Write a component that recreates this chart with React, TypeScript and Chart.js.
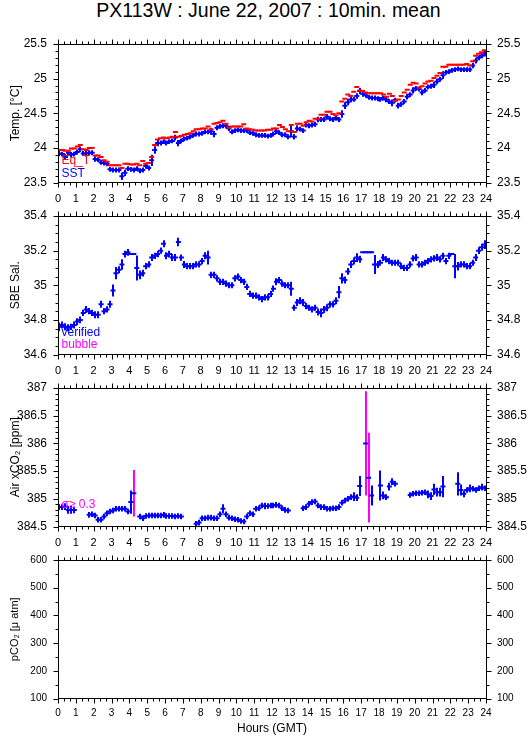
import React, { useEffect, useRef } from "react";
import { Chart, registerables } from "chart.js";

Chart.register(...registerables);

const FONT = '"Liberation Sans", Arial, Helvetica, sans-serif';
Chart.defaults.font.family = FONT;
Chart.defaults.color = "#000";

const BLUE = "#0000ff";
const RED = "#ff0000";
const MAGENTA = "#ff00ff";

const TITLE = "PX113W : June 22, 2007 : 10min. mean";
const X_TITLE = "Hours (GMT)";
const HOUR_TICKS = [0, 1, 2, 3, 4, 5, 6, 7, 8, 9, 10, 11, 12, 13, 14, 15, 16, 17, 18, 19, 20, 21, 22, 23, 24];
const INTERVAL_H = 1 / 6; // 10-minute means

const TEMP_TICKS = [23.5, 24, 24.5, 25, 25.5];
const SAL_TICKS = [34.6, 34.8, 35, 35.2, 35.4];
const XCO2_TICKS = [384.5, 385, 385.5, 386, 386.5, 387];
const PCO2_TICKS = [100, 200, 300, 400, 500, 600];

// Temperature panel
const EQ_T = [
  23.97, 23.97, 23.96, 23.96, 23.99, 23.99,
  24.02, 24.04, 23.98, 23.97, 24.0, 24.0,
  23.89, 23.89, 23.87, 23.82, 23.8, 23.75,
  23.75, 23.75, 23.75, 23.71, 23.77, 23.77,
  23.76, 23.76, 23.77, 23.75, 23.81, 23.77,
  23.78, 23.87, 24.04, 24.12, 24.14, 24.15,
  24.14, 24.15, 24.16, 24.23, 24.16, 24.17,
  24.19, 24.2, 24.21, 24.24, 24.27, 24.27,
  24.28, 24.28, 24.31, 24.27, 24.35, 24.36,
  24.37, 24.39, 24.35, 24.29, 24.31, 24.31,
  24.31, 24.31, 24.34, 24.28, 24.27, 24.26,
  24.25, 24.25, 24.25, 24.25, 24.26, 24.26,
  24.28, 24.28, 24.33, 24.3, 24.27, 24.24,
  24.33, 24.23, 24.35, 24.35, 24.32, 24.37,
  24.39, 24.38, 24.42, 24.42, 24.48, 24.48,
  24.52, 24.52, 24.49, 24.47, 24.5, 24.67,
  24.71, 24.77, 24.75, 24.81, 24.88, 24.83,
  24.82, 24.8, 24.79, 24.79, 24.79, 24.79,
  24.79, 24.77, 24.74, 24.78, 24.75, 24.68,
  24.7, 24.75, 24.8, 24.84, 24.91, 24.94,
  24.93, 24.87, 24.89, 24.93, 24.96, 24.97,
  25.01, 25.04, 25.08, 25.17, 25.17, 25.2,
  25.2, 25.2, 25.2, 25.2, 25.2, 25.21,
  25.19, 25.25, 25.33, 25.36, 25.38, 25.41,
];
const SST = [
  23.92, 23.91, 23.87, 23.93, 23.9, 23.91,
  23.94, 23.98, 23.92, 23.92, 23.93, 23.93,
  23.84, 23.83, 23.79, 23.78, 23.77, 23.69,
  23.68, 23.68, 23.68, 23.59, 23.64, 23.7,
  23.69, 23.68, 23.7, 23.67, 23.68, 23.74,
  23.71, 23.82, 23.97, 24.07, 24.07, 24.09,
  24.07, 24.09, 24.1, 24.15, 24.07, 24.1,
  24.13, 24.14, 24.16, 24.18, 24.2, 24.2,
  24.21, 24.23, 24.23, 24.24, 24.2, 24.29,
  24.31, 24.32, 24.32, 24.28, 24.23, 24.25,
  24.26, 24.25, 24.25, 24.25, 24.22, 24.21,
  24.19, 24.18, 24.18, 24.18, 24.17, 24.18,
  24.2, 24.24, 24.22, 24.19, 24.19, 24.16,
  24.24, 24.16, 24.28, 24.27, 24.25, 24.33,
  24.32, 24.33, 24.34, 24.41, 24.41, 24.41,
  24.45, 24.42, 24.41, 24.43, 24.41, 24.49,
  24.61, 24.66, 24.7, 24.7, 24.75, 24.82,
  24.78, 24.76, 24.73, 24.72, 24.72, 24.71,
  24.7, 24.72, 24.7, 24.67, 24.65, 24.69,
  24.61, 24.63, 24.67, 24.74, 24.77, 24.83,
  24.86, 24.85, 24.8, 24.83, 24.88, 24.89,
  24.91, 24.96, 24.99, 25.05, 25.09, 25.1,
  25.12, 25.13, 25.14, 25.13, 25.13, 25.13,
  25.13, 25.19, 25.26, 25.3, 25.33, 25.36,
];
const SST_SD = [
  0.04, 0.035, 0.04, 0.035, 0.04, 0.035,
  0.035, 0.04, 0.035, 0.045, 0.035, 0.035,
  0.04, 0.035, 0.035, 0.035, 0.035, 0.035,
  0.035, 0.035, 0.035, 0.055, 0.045, 0.035,
  0.035, 0.035, 0.035, 0.035, 0.035, 0.04,
  0.035, 0.08, 0.055, 0.045, 0.035, 0.035,
  0.035, 0.035, 0.035, 0.04, 0.045, 0.035,
  0.035, 0.035, 0.035, 0.035, 0.035, 0.035,
  0.035, 0.035, 0.035, 0.05, 0.045, 0.035,
  0.035, 0.035, 0.04, 0.035, 0.035, 0.035,
  0.035, 0.035, 0.035, 0.035, 0.035, 0.035,
  0.035, 0.035, 0.035, 0.035, 0.035, 0.035,
  0.035, 0.04, 0.035, 0.035, 0.035, 0.035,
  0.085, 0.04, 0.045, 0.035, 0.035, 0.035,
  0.035, 0.035, 0.035, 0.04, 0.035, 0.035,
  0.04, 0.035, 0.035, 0.035, 0.035, 0.055,
  0.05, 0.045, 0.04, 0.035, 0.04, 0.045,
  0.04, 0.035, 0.035, 0.035, 0.035, 0.035,
  0.035, 0.035, 0.04, 0.035, 0.05, 0.035,
  0.04, 0.035, 0.035, 0.04, 0.035, 0.045,
  0.035, 0.035, 0.04, 0.035, 0.035, 0.035,
  0.045, 0.04, 0.035, 0.055, 0.035, 0.035,
  0.035, 0.035, 0.035, 0.035, 0.035, 0.035,
  0.035, 0.04, 0.04, 0.035, 0.035, 0.04,
];

// Salinity panel
const SAL = [
  34.76, 34.77, 34.76, 34.755, 34.76, 34.77,
  34.79, 34.8, 34.84, 34.86, 34.85, 34.84,
  34.83, 34.83, 34.89, 34.85, 34.86, 34.89,
  34.97, 35.07, 35.09, 35.12, 35.18, 35.19,
  35.18, 35.18, 35.1, 35.06, 35.07, 35.11,
  35.12, 35.16, 35.17, 35.18, 35.2, 35.24,
  35.17, 35.18, 35.16, 35.16, 35.25, 35.16,
  35.12, 35.11, 35.11, 35.11, 35.12, 35.12,
  35.14, 35.17, 35.16, 35.06, 35.06, 35.04,
  35.02, 35.02, 35.01, 35.0, 35.0, 35.04,
  35.05, 35.03, 35.02, 34.99, 34.95, 34.94,
  34.94, 34.93, 34.92, 34.93, 34.93, 34.95,
  34.98, 35.02, 35.03, 35.01, 35.0, 35.0,
  34.98, 34.87, 34.9, 34.91, 34.9, 34.88,
  34.87, 34.86, 34.87, 34.845, 34.84, 34.86,
  34.87, 34.89, 34.89, 34.91, 34.96, 35.04,
  35.03, 35.08, 35.12, 35.14, 35.16, 35.15,
  35.19, 35.19, 35.19, 35.19, 35.12, 35.12,
  35.13, 35.16, 35.15, 35.14, 35.13, 35.13,
  35.13, 35.11, 35.1, 35.1, 35.12, 35.155,
  35.16, 35.12, 35.12, 35.13, 35.14, 35.15,
  35.155, 35.16, 35.15, 35.17, 35.14, 35.17,
  35.18, 35.11, 35.11, 35.12, 35.12, 35.11,
  35.11, 35.13, 35.16, 35.2, 35.22, 35.235,
];
const SAL_SD = [
  0.025, 0.02, 0.02, 0.02, 0.018, 0.02,
  0.02, 0.02, 0.018, 0.02, 0.018, 0.018,
  0.02, 0.02, 0.02, 0.018, 0.018, 0.02,
  0.035, 0.035, 0.02, 0.03, 0.02, 0.02,
  0.003, 0.003, 0.072, 0.025, 0.02, 0.018,
  0.018, 0.02, 0.018, 0.018, 0.018, 0.02,
  0.02, 0.02, 0.02, 0.02, 0.025, 0.018,
  0.02, 0.018, 0.018, 0.018, 0.018, 0.018,
  0.018, 0.02, 0.04, 0.018, 0.018, 0.018,
  0.018, 0.018, 0.018, 0.018, 0.018, 0.018,
  0.018, 0.018, 0.018, 0.018, 0.018, 0.018,
  0.018, 0.018, 0.018, 0.018, 0.018, 0.018,
  0.018, 0.02, 0.018, 0.018, 0.018, 0.018,
  0.04, 0.018, 0.02, 0.02, 0.02, 0.018,
  0.018, 0.018, 0.018, 0.02, 0.025, 0.02,
  0.02, 0.018, 0.018, 0.02, 0.035, 0.03,
  0.02, 0.02, 0.02, 0.02, 0.025, 0.02,
  0.003, 0.003, 0.003, 0.003, 0.055, 0.02,
  0.018, 0.02, 0.018, 0.018, 0.018, 0.018,
  0.018, 0.018, 0.018, 0.018, 0.018, 0.018,
  0.02, 0.018, 0.018, 0.018, 0.018, 0.018,
  0.018, 0.02, 0.018, 0.018, 0.018, 0.018,
  0.003, 0.07, 0.025, 0.018, 0.018, 0.018,
  0.018, 0.018, 0.02, 0.02, 0.02, 0.025,
];

// Air xCO2 panel (null = no measurement)
const XCO2 = [
  384.85, 384.85, 384.86, 384.8, 384.8, 384.8,
  null, null, null, null, 384.71, 384.72,
  384.7, 384.62, 384.62, 384.68, 384.74, 384.77,
  384.79, 384.82, 384.82, 384.82, 384.82, 384.77,
  384.94, 385.1, null, 384.68, 384.65, 384.69,
  384.7, 384.7, 384.7, 384.7, 384.7, 384.71,
  384.69, 384.69, 384.69, 384.68, 384.69, 384.68,
  null, null, null, null, 384.55, 384.57,
  384.65, 384.65, 384.66, 384.66, 384.65, 384.65,
  384.72, 384.82, 384.72, 384.66, 384.65, 384.63,
  384.62, 384.6, 384.59, 384.68, 384.74, 384.72,
  384.82, 384.83, 384.88, 384.87, 384.87, 384.88,
  384.88, 384.89, 384.88, 384.83, 384.8, 384.79,
  null, null, null, null, 384.83, 384.85,
  384.91, 384.94, 384.95, 384.88, 384.85, 384.85,
  384.82, 384.82, 384.83, 384.83, 384.85, 384.93,
  384.97, 385.0, 385.03, 385.04, 385.02, 385.23,
  null, 386.0, 385.38, 385.06, null, null,
  385.24, 385.06, 385.03, 385.22, 385.31, 385.27,
  null, null, null, null, 385.07, 385.09,
  385.1, 385.1, 385.11, 385.12, 385.08, 385.05,
  385.17, 385.12, 385.12, 385.22, null, null,
  null, null, 385.27, 385.16, 385.09, 385.16,
  385.19, 385.18, 385.16, 385.19, 385.21, 385.19,
];
const XCO2_SD = [
  0.05, 0.05, 0.06, 0.07, 0.07, 0.06,
  0.05, 0.05, 0.05, 0.05, 0.05, 0.05,
  0.05, 0.05, 0.05, 0.05, 0.05, 0.05,
  0.05, 0.05, 0.05, 0.05, 0.05, 0.05,
  0.21, 0.42, 0.05, 0.05, 0.05, 0.05,
  0.05, 0.05, 0.05, 0.05, 0.05, 0.05,
  0.05, 0.05, 0.05, 0.05, 0.05, 0.05,
  0.05, 0.05, 0.05, 0.05, 0.05, 0.05,
  0.05, 0.05, 0.05, 0.05, 0.05, 0.05,
  0.05, 0.08, 0.05, 0.05, 0.05, 0.05,
  0.05, 0.05, 0.05, 0.05, 0.05, 0.05,
  0.05, 0.05, 0.05, 0.06, 0.05, 0.05,
  0.05, 0.05, 0.05, 0.05, 0.05, 0.05,
  0.05, 0.05, 0.05, 0.05, 0.05, 0.05,
  0.05, 0.05, 0.05, 0.05, 0.05, 0.05,
  0.05, 0.05, 0.05, 0.05, 0.05, 0.05,
  0.05, 0.05, 0.05, 0.08, 0.06, 0.18,
  0.05, 0.94, 0.81, 0.18, 0.05, 0.05,
  0.27, 0.07, 0.05, 0.07, 0.06, 0.05,
  0.05, 0.05, 0.05, 0.05, 0.05, 0.05,
  0.05, 0.05, 0.05, 0.05, 0.07, 0.07,
  0.1, 0.08, 0.08, 0.19, 0.05, 0.05,
  0.05, 0.05, 0.21, 0.1, 0.06, 0.05,
  0.07, 0.05, 0.05, 0.05, 0.06, 0.05,
];
const SIGMA_LIMIT = 0.3;

type Pt = { x: number; y: number; sd: number };
function toPoints(vals: (number | null)[], sds?: number[]): Pt[] {
  const out: Pt[] = [];
  vals.forEach((v, i) => {
    if (v == null) return;
    out.push({ x: (i + 0.5) * INTERVAL_H, y: v, sd: sds ? sds[i] : 0 });
  });
  return out;
}

const framePlugin = {
  id: "frame",
  afterDraw(chart: any, _args: any, opts: any) {
    const { ctx, chartArea: a, scales } = chart;
    const xs = scales.x;
    const ys = scales.y;
    ctx.save();
    ctx.strokeStyle = "#000";
    ctx.lineWidth = 1;
    const L = Math.floor(a.left) + 0.5;
    const R = Math.floor(a.right) + 0.5;
    const T = Math.floor(a.top) + 0.5;
    const B = Math.floor(a.bottom) + 0.5;
    ctx.strokeRect(L, T, R - L, B - T);
    ctx.beginPath();
    for (let k = 0; k <= 72; k++) {
      const px = Math.round(xs.getPixelForValue(k / 3)) + 0.5;
      const len = k % 3 === 0 ? 5 : 3;
      ctx.moveTo(px, T);
      ctx.lineTo(px, T - len);
      ctx.moveTo(px, B);
      ctx.lineTo(px, B + len);
    }
    const n = Math.round((ys.max - ys.min) / opts.minor);
    for (let k = 0; k <= n; k++) {
      const py = Math.round(ys.getPixelForValue(ys.min + k * opts.minor)) + 0.5;
      const len = k % opts.majorEvery === 0 ? 5 : 3;
      ctx.moveTo(L, py);
      ctx.lineTo(L - len, py);
      ctx.moveTo(R, py);
      ctx.lineTo(R + len, py);
    }
    ctx.stroke();
    ctx.restore();
  },
};

const errorBarPlugin = {
  id: "errorBars",
  beforeDatasetsDraw(chart: any) {
    const { ctx, chartArea: a } = chart;
    const ys = chart.scales.y;
    ctx.save();
    ctx.beginPath();
    ctx.rect(a.left, a.top, a.right - a.left, a.bottom - a.top);
    ctx.clip();
    ctx.lineWidth = 2;
    chart.data.datasets.forEach((ds: any, di: number) => {
      if (!ds.errorBars) return;
      const meta = chart.getDatasetMeta(di);
      meta.data.forEach((el: any, j: number) => {
        const p = ds.data[j];
        if (!p || !p.sd) return;
        const x = Math.round(el.x);
        ctx.strokeStyle = ds.sigmaLimit && p.sd >= ds.sigmaLimit ? MAGENTA : ds.borderColor;
        ctx.beginPath();
        ctx.moveTo(x, ys.getPixelForValue(p.y + p.sd));
        ctx.lineTo(x, ys.getPixelForValue(p.y - p.sd));
        ctx.stroke();
      });
    });
    ctx.restore();
  },
};

const legendTextPlugin = {
  id: "panelLegend",
  afterDraw(chart: any, _args: any, opts: any) {
    const items = (opts && opts.items) || [];
    const { ctx, chartArea: a } = chart;
    ctx.save();
    ctx.font = `12px ${FONT}`;
    ctx.textAlign = "left";
    ctx.textBaseline = "alphabetic";
    items.forEach((it: any) => {
      ctx.fillStyle = it.color;
      ctx.fillText(it.text, a.left + 3.5, a.top + it.dy);
    });
    ctx.restore();
  },
};

const PLOT_TOP = 8;
const PLOT_H = 138.5;

type PanelCfg = {
  yTitle: string;
  min: number;
  max: number;
  ticks: number[];
  minor: number;
  majorEvery: number;
  datasets: any[];
  legend: { text: string; color: string; dy: number }[];
  tickFont: number;
  xFont: number;
  xPad: number;
  titleFont: number;
};

const fmt = (v: number) => String(+(+v).toFixed(3));

function markDataset(label: string, pts: Pt[], color: string, errorBars: boolean, sigmaLimit?: number) {
  return {
    label,
    data: pts,
    borderColor: color,
    backgroundColor: color,
    pointStyle: "line",
    pointRadius: 2.5,
    pointHoverRadius: 2.5,
    pointBorderWidth: 2,
    pointBorderColor: color,
    showLine: false,
    errorBars,
    sigmaLimit,
  };
}

const PANELS: PanelCfg[] = [
  {
    yTitle: "Temp. [°C]",
    min: 23.5,
    max: 25.5,
    ticks: TEMP_TICKS,
    minor: 0.1,
    majorEvery: 5,
    datasets: [
      markDataset("Eq_T", toPoints(EQ_T), RED, false),
      markDataset("SST", toPoints(SST, SST_SD), BLUE, true),
    ],
    legend: [
      { text: "Eq_T", color: RED, dy: 119.5 },
      { text: "SST", color: BLUE, dy: 132.7 },
    ],
    tickFont: 12,
    xFont: 11,
    xPad: 10,
    titleFont: 12,
  },
  {
    yTitle: "SBE Sal.",
    min: 34.6,
    max: 35.4,
    ticks: SAL_TICKS,
    minor: 0.05,
    majorEvery: 4,
    datasets: [markDataset("verified", toPoints(SAL, SAL_SD), BLUE, true)],
    legend: [
      { text: "verified", color: BLUE, dy: 120 },
      { text: "bubble", color: MAGENTA, dy: 132.3 },
    ],
    tickFont: 12,
    xFont: 11,
    xPad: 10,
    titleFont: 12,
  },
  {
    yTitle: "Air xCO₂ [ppm]",
    min: 384.5,
    max: 387,
    ticks: XCO2_TICKS,
    minor: 0.1,
    majorEvery: 5,
    datasets: [markDataset("Air xCO2", toPoints(XCO2, XCO2_SD), BLUE, true, SIGMA_LIMIT)],
    legend: [{ text: "σ≥ 0.3", color: MAGENTA, dy: 119.7 }],
    tickFont: 12,
    xFont: 11,
    xPad: 10,
    titleFont: 12,
  },
  {
    yTitle: "pCO₂ [μ atm]",
    min: 100,
    max: 600,
    ticks: PCO2_TICKS,
    minor: 50,
    majorEvery: 2,
    datasets: [],
    legend: [],
    tickFont: 10,
    xFont: 10,
    xPad: 8.5,
    titleFont: 11,
  },
];

function Panel({ cfg, top, height, showXTitle }: { cfg: PanelCfg; top: number; height: number; showXTitle: boolean }) {
  const ref = useRef<HTMLCanvasElement>(null);
  useEffect(() => {
    const xHeight = height - PLOT_TOP - PLOT_H;
    const noPad = (s: any) => {
      s.paddingTop = 0;
      s.paddingBottom = 0;
      s.paddingLeft = 0;
      s.paddingRight = 0;
    };
    const yCommon = (position: string, width: number) => ({
      type: "linear",
      position,
      min: cfg.min,
      max: cfg.max,
      afterBuildTicks: (s: any) => {
        s.ticks = cfg.ticks.map((v) => ({ value: v }));
      },
      ticks: {
        padding: 11,
        font: { size: cfg.tickFont },
        color: "#000",
        callback: (v: any) => fmt(v),
      },
      grid: { display: false, drawTicks: false },
      border: { display: false },
      afterFit: (s: any) => {
        s.width = width;
        noPad(s);
      },
    });
    const chart = new Chart(ref.current as HTMLCanvasElement, {
      type: "scatter",
      data: { datasets: cfg.datasets },
      options: {
        animation: false,
        responsive: false,
        maintainAspectRatio: false,
        devicePixelRatio: 1,
        events: [],
        layout: { padding: { top: PLOT_TOP, left: 0, right: 0, bottom: 0 } },
        plugins: {
          legend: { display: false },
          tooltip: { enabled: false },
          frame: { minor: cfg.minor, majorEvery: cfg.majorEvery },
          panelLegend: { items: cfg.legend },
        } as any,
        scales: {
          x: {
            type: "linear",
            position: "bottom",
            min: 0,
            max: 24,
            afterBuildTicks: (s: any) => {
              s.ticks = HOUR_TICKS.map((v) => ({ value: v }));
            },
            ticks: {
              autoSkip: false,
              maxRotation: 0,
              minRotation: 0,
              padding: cfg.xPad,
              font: { size: cfg.xFont },
              color: "#000",
              callback: (v: any) => fmt(v),
            },
            grid: { display: false, drawTicks: false },
            border: { display: false },
            title: {
              display: showXTitle,
              text: X_TITLE,
              color: "#000",
              font: { size: 12 },
              padding: { top: 0, bottom: 3.5 },
            },
            afterFit: (s: any) => {
              s.height = xHeight;
              noPad(s);
            },
          },
          y: {
            ...yCommon("left", 58),
            title: {
              display: true,
              text: cfg.yTitle,
              color: "#000",
              font: { size: cfg.titleFont },
              padding: { top: 8, bottom: 0 },
            },
          },
          y2: yCommon("right", 43),
        } as any,
      },
      plugins: [errorBarPlugin, framePlugin, legendTextPlugin],
    } as any);
    return () => chart.destroy();
  }, [cfg, height, showXTitle]);
  return (
    <canvas
      ref={ref}
      width={529}
      height={height}
      style={{ position: "absolute", left: 0, top, width: 529, height, display: "block" }}
    />
  );
}

const PANEL_TOPS = [36, 208, 380, 552];
const PANEL_HEIGHTS = [172, 172, 172, 187];

export default function App() {
  return (
    <div style={{ position: "fixed", left: 0, top: 0, width: 529, height: 739, background: "#fff", overflow: "hidden" }}>
      <div
        style={{
          position: "absolute",
          left: 0,
          top: 0,
          width: 537,
          textAlign: "center",
          fontFamily: FONT,
          fontSize: 19.5,
          lineHeight: "20px",
          color: "#000",
          whiteSpace: "nowrap",
        }}
      >
        {TITLE}
      </div>
      {PANELS.map((p, i) => (
        <Panel key={i} cfg={p} top={PANEL_TOPS[i]} height={PANEL_HEIGHTS[i]} showXTitle={i === PANELS.length - 1} />
      ))}
    </div>
  );
}
